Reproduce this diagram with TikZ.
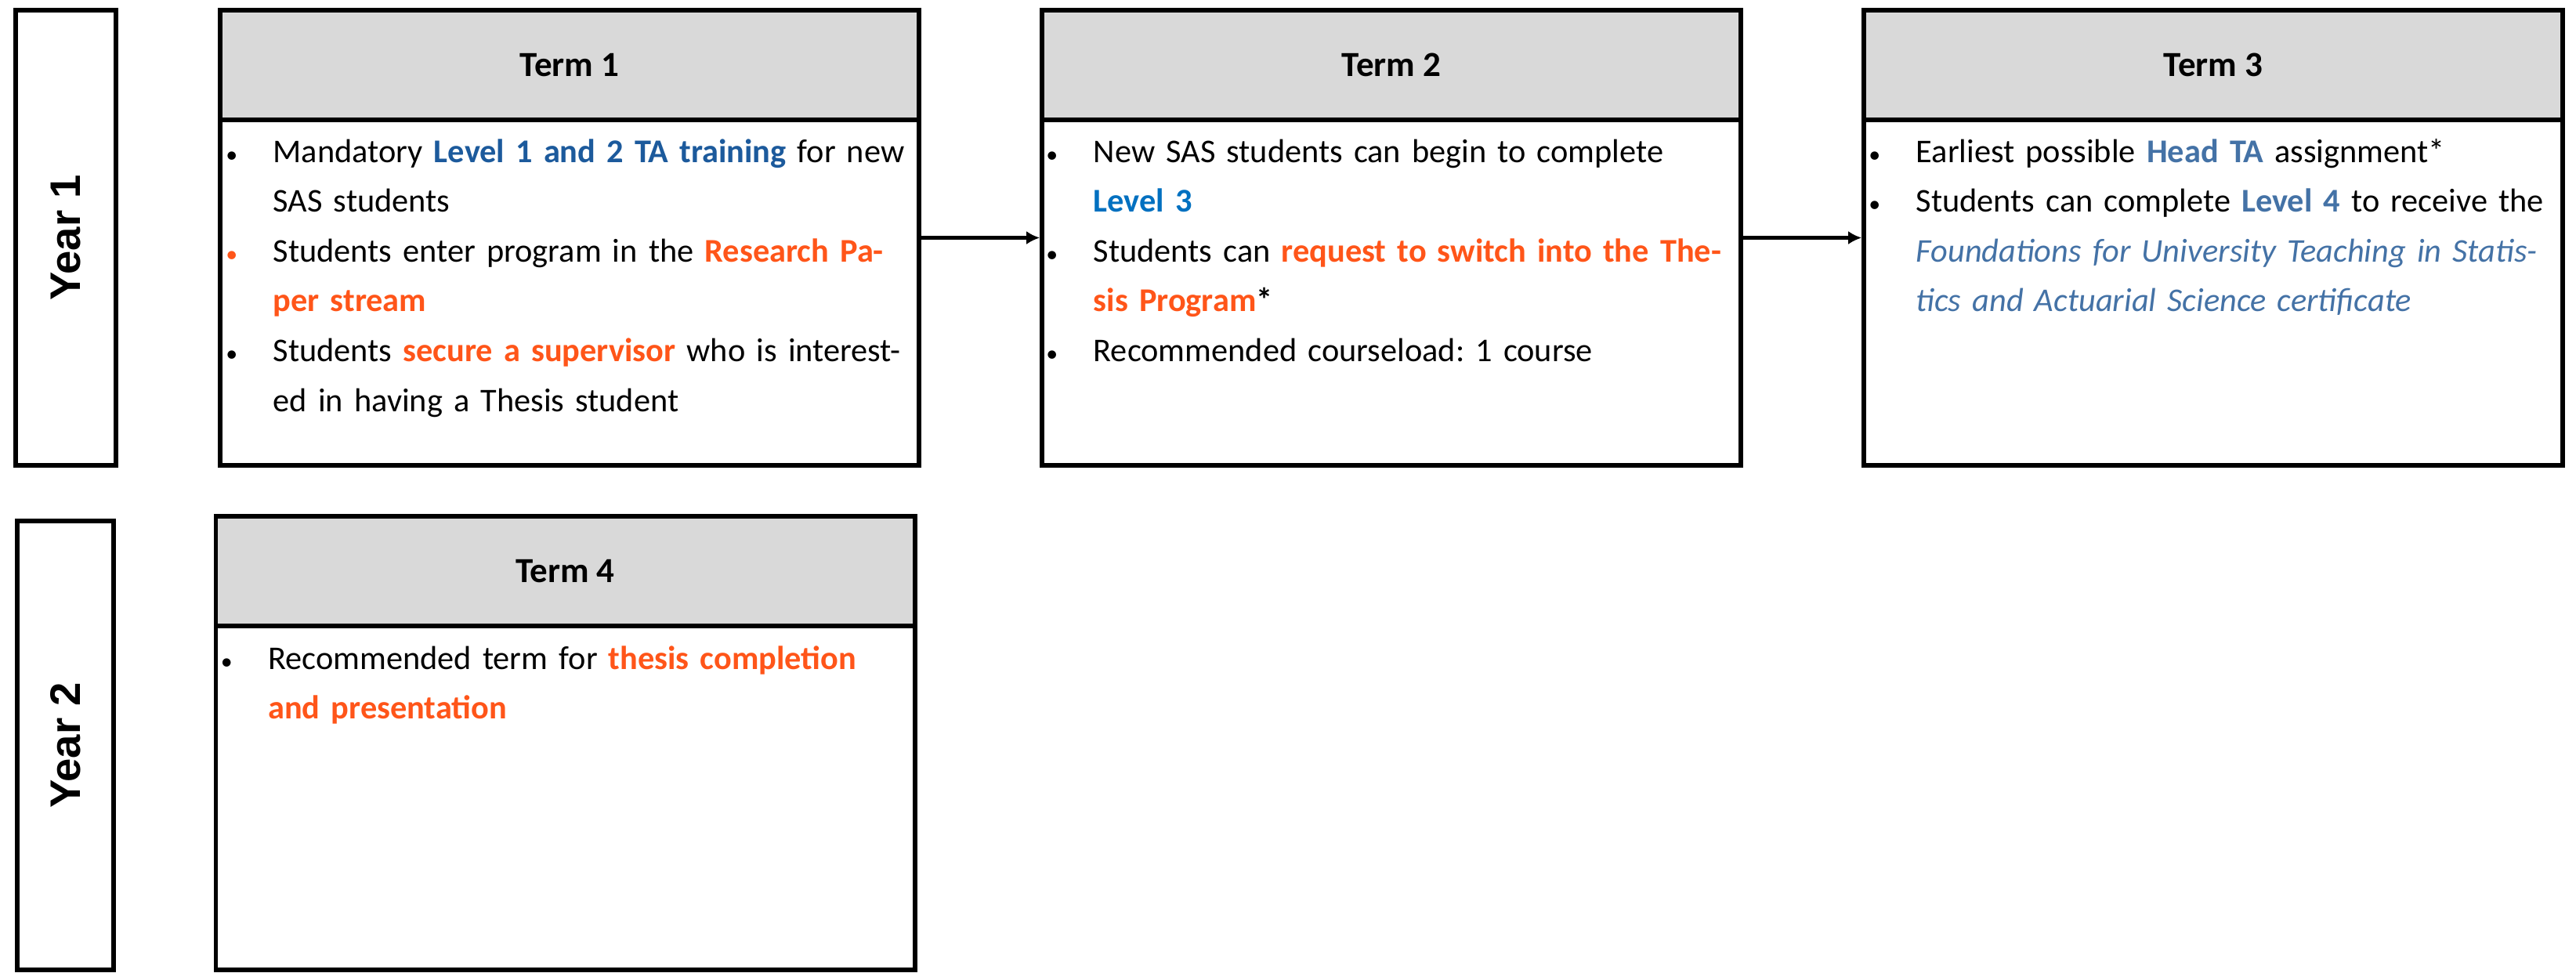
\documentclass[tikz,border=0pt]{standalone}
\usepackage{fontspec}
\setmainfont{Carlito}
\newfontfamily\yearfont{Liberation Sans}
\usetikzlibrary{positioning,arrows.meta}
\frenchspacing

\definecolor{hdrgray}{HTML}{D9D9D9}
\definecolor{lvlblue}{HTML}{1C5A9C}
\definecolor{lvlbright}{HTML}{0070C0}
\definecolor{certblue}{HTML}{4472A6}
\definecolor{accent}{HTML}{FF5519}

\newcommand{\bul}[1][black]{\leavevmode\llap{\makebox[1.06cm][c]{\textcolor{#1}{\fontsize{8.5}{9}\selectfont\textbullet}}}}
\newcommand{\key}[2]{{\color{#1}\bfseries #2}}

\begin{document}
\begin{tikzpicture}[node distance=1.57cm,
    box/.style={draw, line width=1.7pt, outer sep=0pt, inner sep=0pt},
    yearbox/.style={box, rotate=90, font=\fontsize{15.5}{18}\yearfont\bfseries},
    termhead/.style={box, fill=hdrgray, minimum width=8.92cm, minimum height=1.40cm,
        font=\fontsize{12.8}{16}\selectfont\bfseries},
    termbody/.style={box, fill=white, minimum width=8.92cm, minimum height=4.41cm},
    bodytext/.style={anchor=base west, inner sep=0pt, text width=8.45cm, align=left,
        font=\fontsize{12.05}{18.1}\selectfont},
    flow/.style={-{Latex[length=0.17cm,width=0.17cm]}, line width=1.4pt, shorten >=0.8pt}]
\useasboundingbox (0,0) rectangle (32.88,-12.41);

% year labels
\node[yearbox, minimum width=5.81cm, minimum height=1.28cm] (y1) at (0.84,-3.035) {Year 1};
\node[yearbox, minimum width=5.73cm, minimum height=1.23cm] (y2) at (0.835,-9.515) {Year 2};

% term boxes
\node[termhead] (h1) at (7.27,-0.83) {Term 1};
\node[termbody, below=0pt of h1] (b1) {};
\node[termhead, right=of h1] (h2) {Term 2};
\node[termbody, below=0pt of h2] (b2) {};
\node[termhead, right=of h2] (h3) {Term 3};
\node[termbody, below=0pt of h3] (b3) {};
\node[termhead] (h4) at (7.215,-7.29) {Term 4};
\node[termbody, below=0pt of h4, minimum height=4.39cm] (b4) {};

% contents
\node[bodytext] (t1) at ([xshift=0.67cm, yshift=-0.54cm]b1.north west) {%
  \bul Mandatory \key{lvlblue}{Level 1 and 2 TA training} for new\\
  SAS students\\
  \bul[accent]Students enter program in the \key{accent}{Research Pa-}\\
  \key{accent}{per stream}\\
  \bul Students \key{accent}{secure a supervisor} who is interest-\\
  ed in having a Thesis student};
\node[bodytext] (t2) at ([xshift=0.65cm, yshift=-0.54cm]b2.north west) {%
  \bul New SAS students can begin to complete\\
  \key{lvlbright}{Level 3}\\
  \bul Students can \key{accent}{request to switch into the The-}\\
  \key{accent}{sis Program}{\bfseries*}\\
  \bul Recommended courseload: 1 course};
\node[bodytext] (t3) at ([xshift=0.66cm, yshift=-0.54cm]b3.north west) {%
  \bul Earliest possible \key{certblue}{Head TA} assignment*\\
  \bul Students can complete \key{certblue}{Level 4} to receive the\\
  {\color{certblue}\itshape Foundations for University Teaching in Statis-}\\
  {\color{certblue}\itshape tics and Actuarial Science certificate}};
\node[bodytext] (t4) at ([xshift=0.66cm, yshift=-0.55cm]b4.north west) {%
  \bul Recommended term for \key{accent}{thesis completion}\\
  \key{accent}{and presentation}};

% flow between terms
\draw[flow] (b1.east |- y1.center) -- (b2.west |- y1.center);
\draw[flow] (b2.east |- y1.center) -- (b3.west |- y1.center);
\end{tikzpicture}
\end{document}
